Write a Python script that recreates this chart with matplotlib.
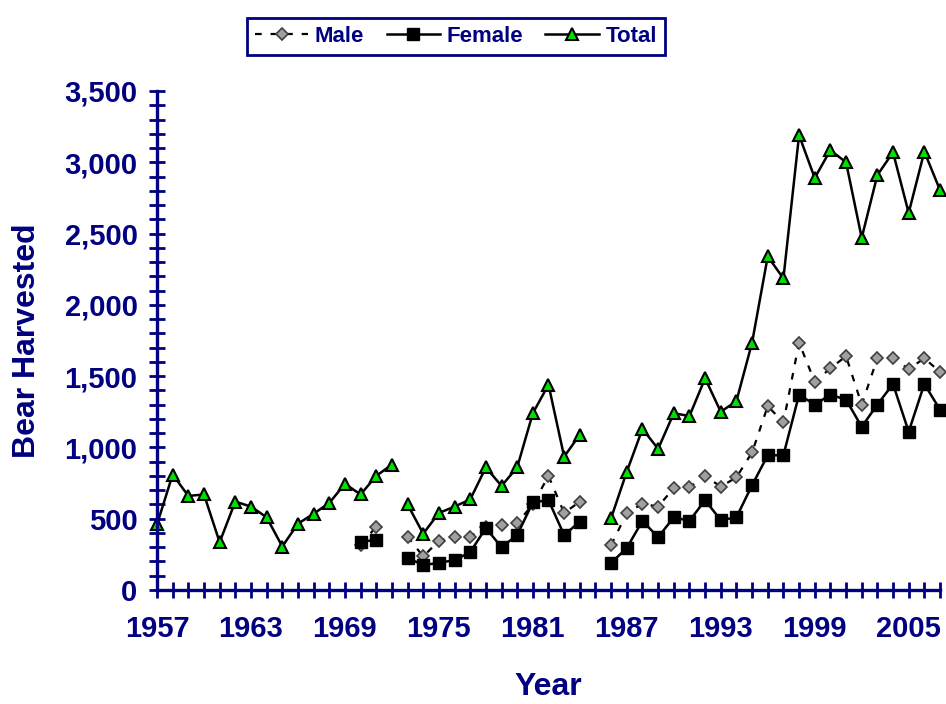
import numpy as np
import matplotlib.pyplot as plt

plt.rcParams['font.family'] = ['Liberation Sans', 'DejaVu Sans']
plt.rcParams['font.weight'] = 'bold'

nan = np.nan
years = np.arange(1957, 2008)

male = [nan] * 13 + [315, 445, nan,
        375, 235, 345, 375, 375, 440, 455, 470, 600, 800, 540, 620, nan,
        315, 540, 605, 585, 715, 720, 800, 725, 790, 965, 1290, 1175,
        1735, 1460, 1555, 1640, 1300, 1625, 1625, 1550, 1625, 1530]
female = [nan] * 13 + [340, 350, nan,
          225, 175, 190, 210, 265, 435, 300, 385, 615, 630, 385, 480, nan,
          190, 295, 485, 370, 510, 485, 630, 490, 510, 735, 945, 945,
          1370, 1300, 1370, 1335, 1145, 1300, 1445, 1110, 1445, 1265]
total = [460, 810, 660, 670, 335, 620, 585, 510, 305, 465, 535, 610, 745, 670, 800, 880,
         600, 395, 540, 585, 635, 860, 730, 860, 1240, 1440, 935, 1090, nan,
         505, 830, 1130, 990, 1240, 1220, 1485, 1250, 1325, 1735, 2340, 2185,
         3190, 2890, 3085, 3000, 2470, 2910, 3070, 2645, 3075, 2805]

# the survey series are not joined across these years
segment_starts = [1957, 1973, 1986]
label_years = list(range(1957, 2008, 6))

navy = '#000080'

fig = plt.figure(figsize=(9.46, 7.04), dpi=100)
ax = fig.add_axes([157 / 946, 1 - 590 / 704, 783 / 946, 499 / 704])

bounds = segment_starts + [years[-1] + 1]


def draw(values, label, **style):
    values = np.array(values, dtype=float)
    for k, (a, b) in enumerate(zip(bounds[:-1], bounds[1:])):
        m = (years >= a) & (years < b)
        ax.plot(years[m], values[m], label=label if k == 0 else None, **style)


draw(male, 'Male', color='black', lw=1.6, dashes=(3, 4), marker='D', ms=6.5,
     mfc='#a0a0a0', mec='#404040', mew=1.2, clip_on=False)
draw(female, 'Female', color='black', lw=1.8, marker='s', ms=9,
     mfc='black', mec='black', clip_on=False)
draw(total, 'Total', color='black', lw=1.8, marker='^', ms=9,
     mfc='#00e000', mec='black', mew=1.5, clip_on=False)

ax.set_xlim(1957, 2007)
ax.set_ylim(0, 3500)
ax.set_xticks(years, minor=True)
ax.set_xticks(label_years)
ax.set_yticks(range(0, 3501, 500))
ax.set_yticks(range(0, 3501, 100), minor=True)
ax.yaxis.set_major_formatter(plt.FuncFormatter(lambda v, p: f'{int(v):,}'))

for s in ['top', 'right']:
    ax.spines[s].set_visible(False)
for s in ['left', 'bottom']:
    ax.spines[s].set_color(navy)
    ax.spines[s].set_linewidth(2.4)

ax.tick_params(which='both', direction='inout', color=navy, width=2, length=12)
ax.tick_params(which='minor', length=11)
ax.tick_params(axis='both', labelsize=21, labelcolor=navy)
ax.tick_params(axis='x', pad=12)
ax.tick_params(axis='y', pad=8)

ax.set_xlabel('Year', fontsize=23, color=navy, fontweight='bold')
ax.set_ylabel('Bear Harvested', fontsize=23, color=navy, fontweight='bold')
ax.xaxis.set_label_coords(0.5, -0.164)
ax.yaxis.set_label_coords(-0.147, 0.5)

leg = fig.legend(loc='upper center', bbox_to_anchor=(0.482, 0.99), ncol=3,
                 fontsize=16, numpoints=1, handlelength=2.4, handletextpad=0.3,
                 columnspacing=1.0, borderpad=0.35, fancybox=False,
                 framealpha=1, edgecolor=navy, labelcolor=navy)
leg.get_frame().set_linewidth(2)

fig.savefig('out.png', dpi=100)
